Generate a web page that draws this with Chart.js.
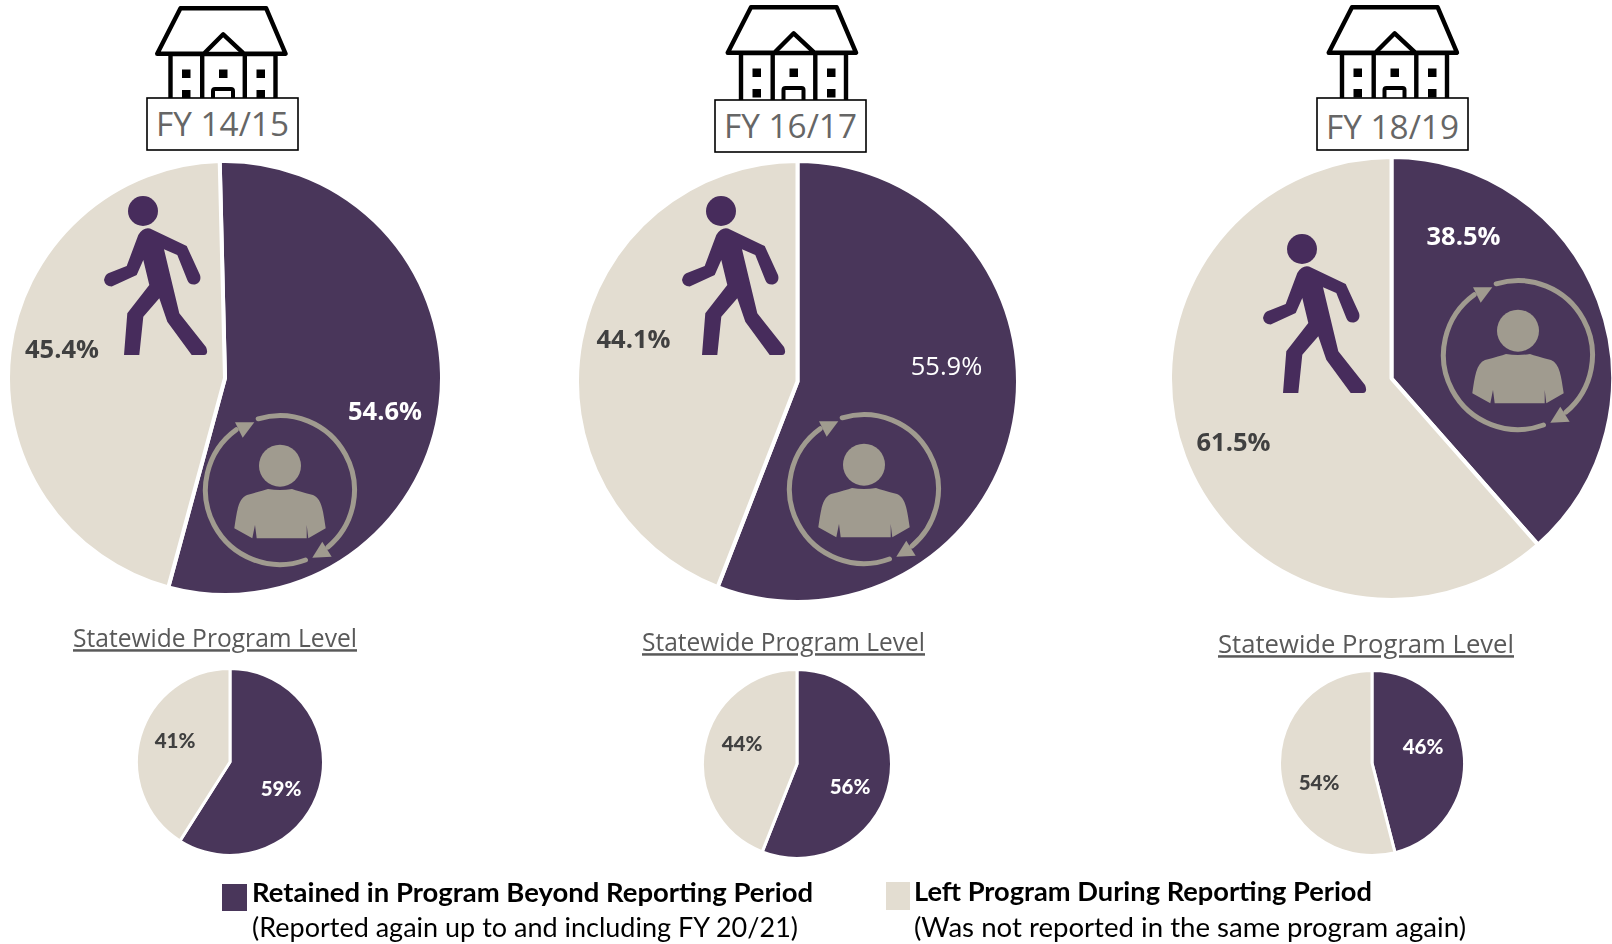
<!DOCTYPE html>
<html>
<head>
<meta charset="utf-8">
<title>Program retention</title>
<script src="https://cdn.jsdelivr.net/npm/chart.js@4"></script>
<style>
  html, body { margin: 0; padding: 0; background: #fff; width: 1612px; height: 944px; overflow: hidden; }
  canvas { position: absolute; }
  #overlay { position: absolute; left: 0; top: 0; }
</style>
</head>
<body>
<div id="charts"></div>
<svg id="overlay" width="1612" height="944" xmlns="http://www.w3.org/2000/svg">
  <defs>
    <g id="house" fill="#fff" stroke="#000" stroke-width="4.4" stroke-linejoin="round">
      <rect x="13" y="47" width="105" height="52"/>
      <path d="M23,1.3 L108.7,1.3 L128,46.7 L86.3,46.7 L65.7,27.3 L46.3,46.7 L-0.3,46.7 Z"/>
      <path d="M44.7,47 L44.7,99 M87.3,47 L87.3,99" fill="none"/>
      <g fill="#000" stroke="none">
        <rect x="24.5" y="62.5" width="8.5" height="8.5"/>
        <rect x="61.5" y="62.5" width="8.5" height="8.5"/>
        <rect x="99" y="62.5" width="8.5" height="8.5"/>
        <rect x="24.5" y="83" width="8.5" height="8.5"/>
        <rect x="99" y="83" width="8.5" height="8.5"/>
      </g>
      <rect x="55.5" y="82" width="20" height="16" rx="2" fill="#fff" stroke-width="4"/>
    </g>
    <g id="walker" fill="#472c5c">
      <circle cx="0" cy="0" r="15"/>
      <path d="M7,17.5 L43.7,35 L57,64 Q59,71 52,73.5 Q46,74 44.3,69 L34.3,44 L21,38.3 L36.3,102.3 L63,136 Q66,143 61,144 L48.7,144 L24.3,110.7 L16.3,87.3 L0.3,105.7 L-3.7,144 L-19,144 L-15.7,102.3 L6.3,74 L0.3,49 L-6.3,64 L-31.3,75.5 Q-38,75 -39,69 Q-38,64 -34.7,62.3 L-16.3,55 L-4.7,24 Q0,16 7,17.5 Z"/>
    </g>
    <g id="person">
      <circle cx="0" cy="-25.3" r="21" fill="#a09b8f"/>
      <path d="M-45.7,37.3 C-43,20 -42,8 -33,4 Q-18,0 -12,-2 Q0,0 12,-2 Q18,0 33,4 C42,8 43,20 45.7,37.3 L28.3,47.3 L26.7,34 L26.7,47.3 L-23.3,47.3 L-25,34 L-27.7,47.3 Z" fill="#a09b8f"/>
      <g fill="none" stroke="#a09b8f" stroke-width="5" stroke-linecap="round">
        <path d="M-21.8,-72.2 A74.5,74.5 0 0 1 47.9,56.1"/>
        <path d="M25.5,69 A74.5,74.5 0 0 1 -43.8,-61.3"/>
      </g>
      <path d="M32.3,66.7 L42.3,50.7 L51.7,65.7 Z" fill="#a09b8f"/>
      <path d="M-25.7,-68.7 L-45,-68.7 L-37.3,-53.3 Z" fill="#a09b8f"/>
    </g>
  </defs>
</svg>
<script>
// values
const years = ['FY 14/15', 'FY 16/17', 'FY 18/19'];
const categories = ['Retained in Program Beyond Reporting Period', 'Left Program During Reporting Period'];
const subCategories = ['(Reported again up to and including FY 20/21)', '(Was not reported in the same program again)'];
const retained = [54.6, 55.9, 38.5];
const left = [45.4, 44.1, 61.5];
const stateRetained = [59, 56, 46];
const stateLeft = [41, 44, 54];
const stateTitle = 'Statewide Program Level';
const colors = ['#49365a', '#e3ddd1'];

// layout: centre, radius, start angle, label offsets from the centre
const bigPies = [
  { cx: 225, cy: 378, r: 217, rot: -1.4, off: [[160, 34], [-163, -28]] },
  { cx: 797.5, cy: 381.5, r: 220.5, rot: 0, off: [[149, -15], [-164, -42]] },
  { cx: 1391.5, cy: 378.5, r: 221.5, rot: 0, off: [[72, -142], [-158, 64]] }
];
const smallPies = [
  { cx: 230, cy: 762, r: 93, rot: 0, off: [[51, 26], [-55, -22]] },
  { cx: 797, cy: 764, r: 94, rot: 0, off: [[53, 22], [-55, -21]] },
  { cx: 1372, cy: 763, r: 92, rot: 0, off: [[51, -17], [-53, 19]] }
];

const pieLabels = {
  id: 'pieLabels',
  afterDatasetsDraw(chart, args, opts) {
    const ctx = chart.ctx;
    const arc = chart.getDatasetMeta(0).data[0];
    ctx.save();
    ctx.textAlign = 'center';
    ctx.textBaseline = 'middle';
    chart.data.datasets[0].data.forEach(function (v, i) {
      ctx.font = opts.fonts[i];
      ctx.fillStyle = i === 0 ? '#fff' : '#404040';
      ctx.fillText(opts.format(v), arc.x + opts.off[i][0], arc.y + opts.off[i][1] + 1);
    });
    ctx.restore();
  }
};

function makePie(p, values, border, fonts, format) {
  const canvas = document.createElement('canvas');
  const size = Math.ceil(p.r * 2 + 4);
  canvas.width = size;
  canvas.height = size;
  canvas.style.left = (p.cx - size / 2) + 'px';
  canvas.style.top = (p.cy - size / 2) + 'px';
  document.getElementById('charts').appendChild(canvas);
  new Chart(canvas.getContext('2d'), {
    type: 'pie',
    data: {
      labels: categories,
      datasets: [{ data: values, backgroundColor: colors, borderColor: '#fff', borderWidth: border }]
    },
    options: {
      responsive: false,
      animation: false,
      rotation: p.rot,
      layout: { padding: 0 },
      plugins: {
        legend: { display: false },
        tooltip: { enabled: false },
        pieLabels: { off: p.off, fonts: fonts, format: format }
      }
    },
    plugins: [pieLabels]
  });
}

const bigFonts = [
  ['bold 25.5px "Open Sans"', 'bold 25.5px "Open Sans"'],
  ['25.5px "Open Sans"', 'bold 25.5px "Open Sans"'],
  ['bold 25.5px "Open Sans"', 'bold 25.5px "Open Sans"']
];
years.forEach(function (y, i) {
  makePie(bigPies[i], [retained[i], left[i]], 4, bigFonts[i], v => v.toFixed(1) + '%');
  makePie(smallPies[i], [stateRetained[i], stateLeft[i]], 3,
    ['900 20.5px Lato', '900 20.5px Lato'], v => v + '%');
});

// icons and text over the charts
const svgNS = 'http://www.w3.org/2000/svg';
const overlay = document.getElementById('overlay');
function addEl(tag, attrs, text) {
  const el = document.createElementNS(svgNS, tag);
  Object.keys(attrs).forEach(k => el.setAttribute(k, attrs[k]));
  if (text) el.textContent = text;
  overlay.appendChild(el);
  return el;
}
function addIcon(id, x, y) {
  addEl('use', { href: '#' + id, transform: 'translate(' + x + ',' + y + ')' });
}
function addText(str, x, y, width, size, attrs) {
  return addEl('text', Object.assign({
    x: x, y: y, textLength: width, lengthAdjust: 'spacingAndGlyphs',
    'font-size': size, 'dominant-baseline': 'middle'
  }, attrs), str);
}

const houses = [[157.5, 7], [728, 6], [1329, 6]];
const walkers = [[143, 211], [721, 211], [1302, 249]];
const people = [[280, 491], [864, 490], [1518, 356]];
const yearBoxes = [[147, 98], [715, 100], [1317, 98]];
const yearTextY = [127, 129, 130];
const stateTitles = [[73, 640.5, 284], [642, 644.5, 283], [1218, 646.5, 296]];

years.forEach(function (y, i) {
  addIcon('house', houses[i][0], houses[i][1]);
  addEl('rect', { x: yearBoxes[i][0], y: yearBoxes[i][1], width: 151, height: 52, fill: '#fff', stroke: '#000', 'stroke-width': 1.6 });
  addText(y, yearBoxes[i][0] + 9, yearTextY[i], 133, 32, { 'font-family': 'Open Sans', fill: '#666' });
  addIcon('walker', walkers[i][0], walkers[i][1]);
  addIcon('person', people[i][0], people[i][1]);
  addText(stateTitle, stateTitles[i][0], stateTitles[i][1], stateTitles[i][2], 25,
    { 'font-family': 'Open Sans', fill: '#595959', 'text-decoration': 'underline' });
});

// legend
addEl('rect', { x: 222, y: 884, width: 25, height: 27, fill: colors[0] });
addEl('rect', { x: 886, y: 882, width: 24, height: 28, fill: colors[1] });
addText(categories[0], 252, 895.5, 561, 26, { 'font-family': 'Lato', 'font-weight': 'bold', fill: '#000' });
addText(subCategories[0], 252, 930.5, 546, 26, { 'font-family': 'Lato', fill: '#000' });
addText(categories[1], 914, 894.5, 458, 26, { 'font-family': 'Lato', 'font-weight': 'bold', fill: '#000' });
addText(subCategories[1], 914, 930.5, 552, 26, { 'font-family': 'Lato', fill: '#000' });
</script>
</body>
</html>
